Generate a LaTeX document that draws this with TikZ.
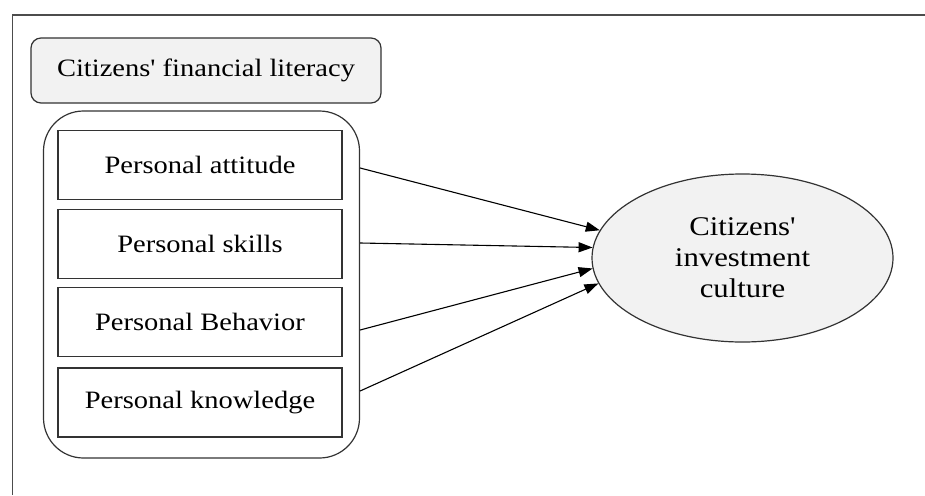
\documentclass[tikz,border=0pt]{standalone}
\usepackage{fontspec}
\setmainfont{Liberation Serif}[FakeStretch=1.14,Ligatures=TeXOff]
\usetikzlibrary{shapes.geometric,arrows.meta}
\definecolor{lightfill}{HTML}{F2F2F2}
\definecolor{linegray}{HTML}{333333}
\begin{document}
\begin{tikzpicture}[x=1pt,y=-1pt,
  boxtext/.style={font=\fontsize{25}{29}\selectfont},
  titlebox/.style={draw=linegray,line width=1.2pt,fill=lightfill,rounded corners=10pt,minimum width=350pt,minimum height=65pt,inner sep=0pt,boxtext},
  groupbox/.style={draw=linegray,line width=1.2pt,rounded corners=40pt,minimum width=316pt,minimum height=347pt,inner sep=0pt},
  itembox/.style={draw=linegray,line width=1.2pt,minimum width=284pt,minimum height=69pt,inner sep=0pt,boxtext},
  target/.style={ellipse,draw=linegray,line width=1.2pt,fill=lightfill,minimum width=301pt,minimum height=168pt,inner sep=0pt,align=center,font=\fontsize{27}{31}\selectfont},
  link/.style={draw=black,line width=1.1pt,-{Triangle[length=14pt,width=10pt]}}
]
\useasboundingbox (0,0) rectangle (925,495);
\fill[white] (0,0) rectangle (925,495);
\coordinate (ftr) at (925,15);
\coordinate (fbl) at (12.5,495);
\draw[line width=1.6pt,color=black!70] (ftr) -- (fbl |- ftr) -- (fbl);

\node[titlebox] (title) at (206,70.5) {Citizens' financial literacy};
\node[groupbox] (grp) at (201.5,284.5) {};
\node[itembox] (b1) at (200,165) {Personal attitude};
\node[itembox] (b2) at (200,244) {Personal skills};
\node[itembox] (b3) at (200,322) {Personal Behavior};
\node[itembox] (b4) at (200,402.5) {Personal knowledge};
\node[target] (ell) at (742.5,258) {Citizens'\\investment\\culture};

\coordinate (s1) at (grp.east |- 0,168);
\coordinate (s2) at (grp.east |- 0,243);
\coordinate (s3) at (grp.east |- 0,330);
\coordinate (s4) at (grp.east |- 0,391);
\draw[link] (s1) -- (ell.169);
\draw[link] (s2) -- (ell.176);
\draw[link] (s3) -- (ell.184);
\draw[link] (s4) -- (ell.190);
\end{tikzpicture}
\end{document}
